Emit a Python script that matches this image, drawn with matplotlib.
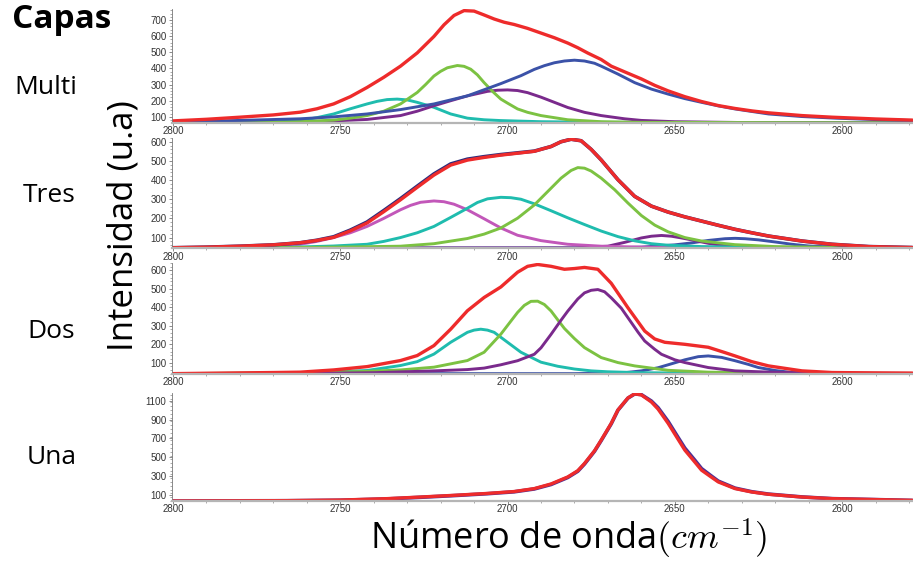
import matplotlib
matplotlib.use('Agg')
import matplotlib.pyplot as plt
import matplotlib.ticker as tck

plt.rcParams['mathtext.fontset'] = 'cm'

# ---------- DATA (wavenumber, intensity) ----------

# Multi
multi_red = [(2800, 75), (2790, 85), (2780, 98), (2770, 112), (2762, 129), (2757, 150), (2752, 180),
             (2747, 225), (2742, 282), (2737, 345), (2732, 414), (2727, 496), (2722, 598), (2719, 670),
             (2716, 728), (2713, 758), (2710, 755), (2707, 731), (2704, 706), (2701, 686), (2698, 672),
             (2694, 648), (2690, 619), (2686, 590), (2682, 557), (2679, 528), (2676, 495), (2672, 455),
             (2669, 414), (2664, 370), (2660, 335), (2656, 295), (2652, 261), (2647, 225), (2642, 195),
             (2637, 170), (2632, 152), (2627, 137), (2622, 125), (2612, 108), (2603, 98), (2590, 87),
             (2579, 80)]
multi_blue = [(2800, 68), (2780, 78), (2762, 88), (2752, 100), (2742, 118), (2732, 145), (2722, 180),
              (2712, 230), (2702, 306), (2696, 355), (2692, 394), (2689, 417), (2686, 435), (2683, 446),
              (2680, 451), (2677, 446), (2674, 432), (2672, 414), (2667, 365), (2662, 312), (2657, 272),
              (2652, 241), (2647, 213), (2642, 190), (2637, 168), (2632, 149), (2622, 118), (2612, 102),
              (2602, 92), (2590, 83), (2579, 77)]
multi_green = [(2800, 62), (2780, 63), (2762, 70), (2752, 80), (2747, 92), (2742, 108), (2737, 135),
               (2732, 180), (2727, 251), (2724.5, 300), (2722, 353), (2720, 382), (2718, 404),
               (2715, 418), (2713, 413), (2711, 395), (2709, 360), (2707, 312), (2704.5, 258),
               (2702, 210), (2700, 185), (2697, 149), (2694, 128), (2690, 108), (2682, 82), (2672, 70),
               (2660, 66), (2579, 63)]
multi_cyan = [(2800, 62), (2780, 64), (2770, 68), (2762, 77), (2757, 95), (2752, 118), (2747, 150),
              (2742, 180), (2739, 196), (2736, 207), (2733, 210), (2730, 205), (2727, 190), (2722, 159),
              (2717, 118), (2712, 92), (2707, 82), (2702, 77), (2690, 70), (2670, 66), (2579, 64)]
multi_purple = [(2800, 62), (2780, 63), (2762, 67), (2752, 75), (2742, 84), (2732, 108), (2727, 135),
                (2722, 169), (2717, 200), (2712, 230), (2706, 258), (2703, 265), (2700, 267), (2697, 263),
                (2694, 250), (2690, 222), (2686, 190), (2682, 158), (2677, 128), (2672, 108), (2665, 88),
                (2660, 78), (2650, 70), (2630, 65), (2579, 63)]

# Tres
tres_x = [2800, 2790, 2780, 2770, 2762, 2757, 2752, 2747, 2742, 2737, 2732, 2727, 2722, 2717,
          2712, 2707, 2702, 2697, 2692, 2687, 2684, 2681, 2678, 2675, 2672, 2667, 2662, 2657,
          2652, 2647, 2642, 2637, 2632, 2627, 2622, 2617, 2612, 2603, 2592, 2579]
tres_red = [47, 50, 55, 62, 73, 85, 101, 135, 176, 235, 297, 362, 426, 478,
            504, 518, 530, 540, 550, 575, 600, 613, 605, 560, 505, 402, 315, 264,
            233, 208, 186, 164, 143, 125, 108, 95, 82, 65, 53, 48]
tres_fit = [47, 50, 55, 62, 73, 86, 104, 139, 181, 241, 303, 368, 432, 484,
            509, 522, 533, 542, 551, 575, 600, 613, 605, 560, 505, 402, 315, 264,
            233, 208, 186, 164, 143, 125, 108, 95, 82, 65, 53, 48]
tres_magenta = [(2800, 45), (2780, 50), (2770, 55), (2762, 65), (2757, 80), (2752, 100), (2747, 125),
                (2742, 158), (2737, 200), (2732, 245), (2729, 268), (2726, 284), (2722, 291), (2719, 287),
                (2716, 274), (2712, 245), (2707, 198), (2702, 150), (2697, 112), (2690, 84), (2682, 65),
                (2672, 55), (2660, 50), (2579, 46)]
tres_cyan = [(2800, 45), (2770, 48), (2762, 51), (2752, 56), (2742, 65), (2737, 80), (2732, 100),
             (2727, 125), (2722, 158), (2717, 205), (2712, 253), (2709, 283), (2706, 302), (2702, 310),
             (2699, 308), (2696, 300), (2692, 276), (2687, 240), (2682, 203), (2677, 168), (2672, 134),
             (2667, 105), (2662, 83), (2657, 68), (2652, 60), (2642, 53), (2620, 48), (2579, 46)]
tres_green = [(2800, 45), (2770, 47), (2752, 50), (2732, 55), (2722, 68), (2712, 95), (2707, 118),
              (2702, 150), (2697, 201), (2692, 270), (2688, 340), (2684, 410), (2681, 450), (2679, 465),
              (2677, 462), (2675, 447), (2672, 410), (2668, 350), (2664, 280), (2660, 215), (2656, 165),
              (2652, 130), (2647, 100), (2642, 82), (2632, 63), (2620, 53), (2600, 48), (2579, 46)]
tres_purple = [(2800, 45), (2680, 46), (2670, 55), (2665, 75), (2660, 98), (2657, 107), (2654, 111),
               (2651, 107), (2648, 98), (2645, 88), (2640, 70), (2635, 57), (2625, 49), (2579, 46)]
tres_blue = [(2800, 45), (2670, 46), (2660, 50), (2650, 62), (2645, 72), (2640, 85), (2635, 94),
             (2632, 96), (2629, 94), (2625, 88), (2620, 77), (2615, 65), (2610, 56), (2600, 49), (2579, 46)]

# Dos
dos_red = [(2800, 40), (2790, 42), (2780, 44), (2770, 46), (2762, 48), (2752, 60), (2742, 78),
           (2732, 111), (2727, 138), (2722, 192), (2717, 281), (2712, 381), (2707, 453), (2702, 510),
           (2697, 590), (2694, 622), (2691, 632), (2687, 622), (2683, 606), (2680, 610), (2677, 616),
           (2673, 606), (2669, 530), (2664, 397), (2659, 271), (2656, 228), (2653, 210), (2647, 199),
           (2640, 183), (2635, 154), (2632, 136), (2627, 105), (2622, 82), (2612, 55), (2603, 46),
           (2590, 44), (2579, 43)]
dos_cyan = [(2800, 40), (2770, 42), (2762, 45), (2752, 50), (2742, 57), (2732, 84), (2727, 105),
            (2722, 146), (2717, 210), (2712, 264), (2710, 276), (2708, 281), (2706, 276), (2704, 264),
            (2700, 210), (2696, 156), (2690, 102), (2685, 80), (2680, 65), (2675, 55), (2670, 50),
            (2660, 45), (2640, 42), (2579, 41)]
dos_green = [(2800, 40), (2760, 45), (2742, 52), (2732, 60), (2722, 75), (2712, 111), (2707, 156),
             (2702, 254), (2699, 325), (2697, 372), (2695, 410), (2693, 432), (2691, 433), (2689, 415),
             (2687, 380), (2685, 332), (2683, 285), (2680, 230), (2677, 181), (2672, 127), (2667, 100),
             (2662, 82), (2652, 58), (2640, 48), (2620, 43), (2579, 41)]
dos_purple = [(2800, 40), (2760, 41), (2740, 45), (2722, 55), (2712, 62), (2707, 70), (2702, 88),
              (2697, 110), (2692, 145), (2690, 180), (2687, 253), (2684, 330), (2682, 379), (2679, 445),
              (2677, 478), (2675, 492), (2673, 496), (2671, 484), (2669, 451), (2666, 395), (2664, 343),
              (2661, 265), (2659, 217), (2656, 172), (2654, 145), (2650, 115), (2647, 100), (2640, 73),
              (2632, 55), (2620, 47), (2600, 42), (2579, 41)]
dos_blue = [(2800, 40), (2680, 40), (2665, 45), (2660, 55), (2655, 72), (2652, 88), (2647, 115),
            (2643, 132), (2640, 136), (2636, 128), (2632, 110), (2628, 90), (2625, 73), (2620, 57),
            (2615, 46), (2605, 41), (2579, 40)]

# Una
una_x = [2800, 2780, 2766, 2750, 2736, 2726, 2716, 2706, 2698, 2692, 2687, 2682, 2679, 2677,
         2674, 2672, 2669, 2667, 2664, 2662, 2660, 2657, 2655, 2652, 2649, 2647, 2644, 2642,
         2639, 2637, 2632, 2627, 2622, 2612, 2603, 2590, 2579]
una_red = [40, 42, 44, 50, 65, 82, 100, 120, 140, 171, 220, 294, 360, 436,
           570, 683, 860, 1001, 1128, 1171, 1160, 1085, 1010, 860, 690, 577, 450, 365,
           290, 241, 171, 135, 111, 82, 65, 55, 47]
una_fit = [40, 42, 43, 48, 62, 79, 97, 117, 137, 167, 214, 288, 354, 430,
           565, 678, 855, 998, 1126, 1170, 1163, 1095, 1025, 880, 710, 598, 470, 382,
           302, 250, 176, 138, 113, 83, 65, 55, 46]

# panel labels and axis settings
row_names = ['Multi', 'Tres', 'Dos', 'Una']
y_limits = [(62, 768), (44, 622), (38, 640), (40, 1180)]
y_majors = [list(range(100, 800, 100)), list(range(100, 700, 100)),
            list(range(100, 700, 100)), list(range(100, 1200, 200))]
x_majors = [2800, 2750, 2700, 2650, 2600]

RED = '#ee2b2b'
BLUE = '#3b52a8'
GREEN = '#7cc242'
PURPLE = '#7a2a8c'
CYAN = '#1fbcae'
MAGENTA = '#c257b9'
NAVY = '#2b2c7c'
FITPURPLE = '#4a2f96'


def pairs(pts):
    return zip(*pts)


panels = [
    [(pairs(multi_cyan), CYAN), (pairs(multi_purple), PURPLE), (pairs(multi_green), GREEN),
     (pairs(multi_blue), BLUE), (pairs(multi_red), RED)],
    [(pairs(tres_blue), BLUE), (pairs(tres_purple), PURPLE), (pairs(tres_magenta), MAGENTA),
     (pairs(tres_cyan), CYAN), (pairs(tres_green), GREEN), ((tres_x, tres_fit), NAVY),
     ((tres_x, tres_red), RED)],
    [(pairs(dos_blue), BLUE), (pairs(dos_cyan), CYAN), (pairs(dos_green), GREEN),
     (pairs(dos_purple), PURPLE), (pairs(dos_red), RED)],
    [((una_x, una_fit), FITPURPLE), ((una_x, una_red), RED)],
]

# axes boxes in pixels (top, bottom)
boxes = [(9, 123), (137.5, 248.3), (263, 374), (393, 501)]
W, H = 913, 563

fig = plt.figure(figsize=(W / 100, H / 100), dpi=100)

for i, curves in enumerate(panels):
    top, bot = boxes[i]
    ax = fig.add_axes([172 / W, 1 - bot / H, (W - 172) / W, (bot - top) / H])
    for (xs, ys), col in curves:
        lw = 2.4 if col == RED else (2.6 if col in (NAVY, FITPURPLE) else 2.1)
        ax.plot(list(xs), list(ys), color=col, lw=lw, solid_capstyle='round', solid_joinstyle='round')

    ax.set_xlim(2800.3, 2578.8)
    ax.set_ylim(*y_limits[i])
    ax.set_xticks(x_majors)
    ax.xaxis.set_minor_locator(tck.MultipleLocator(10))
    ax.set_yticks(y_majors[i])
    ax.yaxis.set_minor_locator(tck.MultipleLocator(20 if i < 3 else 40))
    for s in ['top', 'right']:
        ax.spines[s].set_visible(False)
    ax.spines['bottom'].set_color('#b5b5b5')
    ax.spines['bottom'].set_linewidth(1.6)
    ax.spines['left'].set_color('#777777')
    ax.spines['left'].set_linewidth(0.6)
    ax.tick_params(axis='both', which='major', labelsize=7, labelcolor='#333333',
                   color='#777777', length=2.5, width=0.6, pad=1.5)
    ax.tick_params(axis='x', which='major', length=2, pad=0.5)
    ax.tick_params(axis='both', which='minor', color='#888888', length=1.5, width=0.5)
    for lab in ax.get_xticklabels() + ax.get_yticklabels():
        lab.set_family('Liberation Sans')
    ax.patch.set_alpha(0)

# ---------- TEXT ----------
fig.text(12 / W, 1 - 20 / H, 'Capas', fontsize=24, fontweight='bold', family='Open Sans',
         va='center', ha='left')
label_pos = [(14, 87), (23, 196), (27, 331), (27, 457)]
for name, (px, py) in zip(row_names, label_pos):
    fig.text(px / W, 1 - py / H, name, fontsize=19, family='Open Sans', va='center', ha='left')

fig.text(124 / W, 1 - 226 / H, 'Intensidad (u.a)', fontsize=25, family='Open Sans',
         rotation=90, va='center', ha='center')
fig.text(569 / W, 1 - 539 / H, 'Número de onda$(cm^{-1})$', fontsize=26, family='Open Sans',
         va='center', ha='center')

fig.savefig('out.png', dpi=100)
